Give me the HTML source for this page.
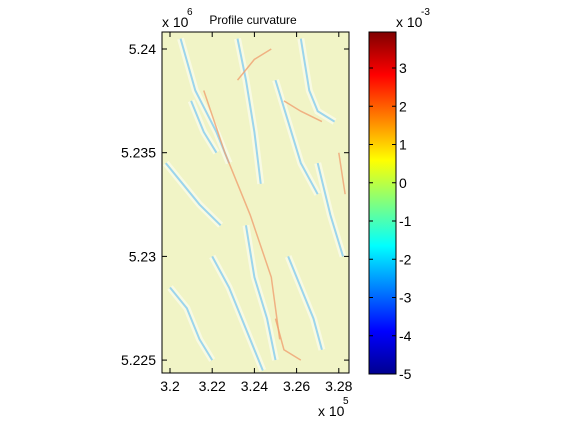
<!DOCTYPE html>
<html><head><meta charset="utf-8"><style>
body{margin:0;background:#fff;width:561px;height:420px;overflow:hidden;font-family:"Liberation Sans",sans-serif}
svg text{font-family:"Liberation Sans",sans-serif;font-size:14px;fill:#000}
</style></head><body>
<svg id="c" width="561" height="420">
<defs>
<linearGradient id="jet" x1="0" y1="1" x2="0" y2="0">
<stop offset="0" stop-color="#00008f"/><stop offset="0.125" stop-color="#0000ff"/>
<stop offset="0.375" stop-color="#00ffff"/><stop offset="0.625" stop-color="#ffff00"/>
<stop offset="0.875" stop-color="#ff0000"/><stop offset="1" stop-color="#800000"/>
</linearGradient>
<clipPath id="clip"><rect x="162" y="32" width="187" height="341"/></clipPath>
</defs>
</svg>
<script>
const xTicks=[3.2,3.22,3.24,3.26,3.28];
const yTicks=[5.225,5.23,5.235,5.24];
const cbTicks=[-5,-4,-3,-2,-1,0,1,2,3];
const cbRange=[-5,3.94];
// valley lines (negative curvature) in data coords [x(1e5), y(1e6)]
const valleys=[
[[3.205,5.2405],[3.212,5.238],[3.222,5.236],[3.228,5.2345]],
[[3.232,5.2405],[3.236,5.2385],[3.240,5.236],[3.243,5.2335]],
[[3.262,5.2405],[3.266,5.238],[3.270,5.237],[3.278,5.2365]],
[[3.250,5.2385],[3.256,5.2365],[3.262,5.2345],[3.270,5.2330]],
[[3.198,5.2345],[3.206,5.2335],[3.214,5.2325],[3.224,5.2315]],
[[3.220,5.2300],[3.228,5.2285],[3.234,5.2270],[3.240,5.2255],[3.244,5.2245]],
[[3.236,5.2315],[3.240,5.2290],[3.246,5.2270],[3.250,5.2250]],
[[3.256,5.2300],[3.262,5.2285],[3.268,5.2270],[3.272,5.2255]],
[[3.200,5.2285],[3.208,5.2275],[3.214,5.2260],[3.220,5.2250]],
[[3.270,5.2345],[3.276,5.2320],[3.282,5.2300]],
[[3.210,5.2375],[3.216,5.2360],[3.222,5.2350]]
];
// ridge lines (positive curvature)
const ridges=[
[[3.216,5.2380],[3.226,5.2350],[3.238,5.2320],[3.248,5.2290],[3.252,5.2260]],
[[3.254,5.2375],[3.262,5.2370],[3.272,5.2365]],
[[3.232,5.2385],[3.240,5.2395],[3.248,5.2400]],
[[3.280,5.2350],[3.283,5.2330]],
[[3.250,5.2270],[3.254,5.2255],[3.262,5.2250]]
];
const svg=document.getElementById('c');const NS='http://www.w3.org/2000/svg';
const X=v=>170+(v-3.2)*2110, Y=v=>49+(5.24-v)*20740;
const CB=v=>374-(v+5)*38.25;
function mk(t,a,p){const e=document.createElementNS(NS,t);for(const k in a)e.setAttribute(k,a[k]);(p||svg).appendChild(e);return e;}
const bg=mk('rect',{x:162,y:32,width:187,height:341,fill:'#f1f4c6'});


const g=mk('g',{'clip-path':'url(#clip)'});


valleys.forEach(l=>{const pts=l.map(p=>X(p[0])+','+Y(p[1])).join(' ');
mk('polyline',{points:pts,fill:'none',stroke:'#ffffff',"stroke-width":7,opacity:0.5},g);
const e=mk('polyline',{points:pts,fill:'none',stroke:'#84ccee',"stroke-width":2,opacity:0.8},g);

});
ridges.forEach(l=>{const e=mk('polyline',{points:l.map(p=>X(p[0])+','+Y(p[1])).join(' '),fill:'none',stroke:'#f0a070',"stroke-width":1.5,opacity:0.8},g);

});
mk('rect',{x:162,y:32,width:187,height:341,fill:'none',stroke:'#000','stroke-width':1});
xTicks.forEach(v=>{const x=X(v);mk('line',{x1:x,x2:x,y1:373,y2:368,stroke:'#000'});mk('line',{x1:x,x2:x,y1:32,y2:37,stroke:'#000'});
const t=mk('text',{x:x,y:391,'text-anchor':'middle'});t.textContent=v.toFixed(2).replace(/0$/,'').replace(/\.$/,'');

});
yTicks.forEach(v=>{const y=Y(v);mk('line',{x1:162,x2:167,y1:y,y2:y,stroke:'#000'});mk('line',{x1:349,x2:344,y1:y,y2:y,stroke:'#000'});
const t=mk('text',{x:156,y:y+5,'text-anchor':'end'});t.textContent=String(v);

});
const cb=mk('rect',{x:369,y:32,width:27,height:342,fill:'url(#jet)',stroke:'#000'});


cbTicks.forEach(v=>{const y=CB(v);mk('line',{x1:396,x2:392,y1:y,y2:y,stroke:'#000'});mk('line',{x1:369,x2:373,y1:y,y2:y,stroke:'#000'});
const t=mk('text',{x:399,y:y+5});t.textContent=String(v);

});
function txt(x,y,s,name,size,anchor){const t=mk('text',{x:x,y:y,'text-anchor':anchor||'start'});if(size)t.style.fontSize=size+'px';t.textContent=s;

return t;}
txt(253,24,'Profile curvature','chart-title',12,'middle');
txt(162,27,'x 10','y-axis-multiplier',14);txt(187,15,'6','y-exponent',10);
txt(318,416,'x 10','x-axis-multiplier',14);txt(343,404,'5','x-exponent',10);
txt(396,27,'x 10','colorbar-multiplier',14);txt(421,15,'-3','colorbar-exponent',10);
</script>
</body></html>
